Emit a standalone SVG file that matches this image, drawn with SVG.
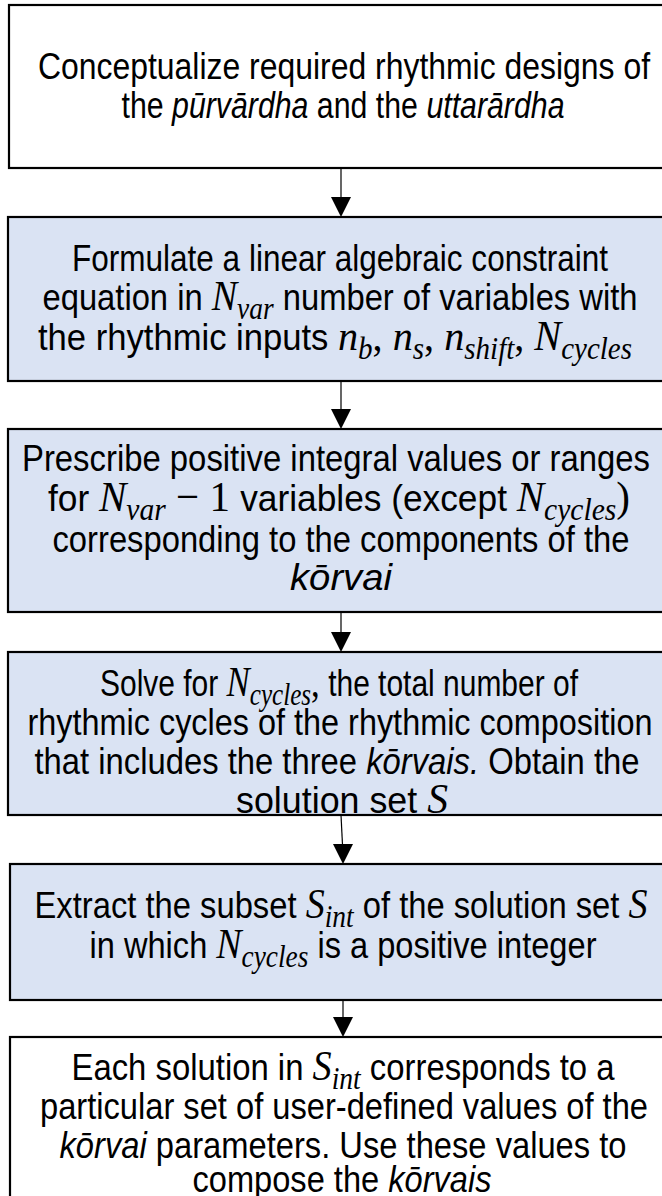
<svg xmlns="http://www.w3.org/2000/svg" width="662" height="1196" viewBox="0 0 662 1196">
<style>
.box{stroke:#000;stroke-width:2.2}
.w{fill:#fff}
.b{fill:#dae3f3}
.t{font-family:"Liberation Sans",Arial,sans-serif;font-size:37px;fill:#000;text-anchor:middle}
.i{font-style:italic}
.m{font-family:"Liberation Serif","Times New Roman",serif;font-style:italic;font-size:43px}
.mu{font-family:"Liberation Serif","Times New Roman",serif;font-size:43px}
.s{font-size:31px}
.c{stroke:#000;stroke-width:1.2;fill:none}
.h{fill:#000}
</style>
<rect width="662" height="1196" fill="#fff"/>
<g id="node1">
<rect class="box w" x="9" y="5" width="670" height="163"/>
<text class="t" x="344" y="79" textLength="612" lengthAdjust="spacingAndGlyphs">Conceptualize required rhythmic designs of</text>
<text class="t" x="343" y="118" textLength="443" lengthAdjust="spacingAndGlyphs">the <tspan class="i">pūrvārdha</tspan> and the <tspan class="i">uttarārdha</tspan></text>
</g>
<g id="node2">
<rect class="box b" x="8" y="217" width="670" height="164"/>
<text class="t" x="340" y="271" textLength="536" lengthAdjust="spacingAndGlyphs">Formulate a linear algebraic constraint</text>
<text class="t" x="340" y="310" textLength="595" lengthAdjust="spacingAndGlyphs">equation in <tspan class="m">N</tspan><tspan class="m s" dy="9">var</tspan><tspan dy="-9"> number of variables with</tspan></text>
<text class="t" x="335" y="350" textLength="594" lengthAdjust="spacingAndGlyphs">the rhythmic inputs <tspan class="m">n</tspan><tspan class="m s" dy="9">b</tspan><tspan class="mu" dy="-9">, </tspan><tspan class="m">n</tspan><tspan class="m s" dy="9">s</tspan><tspan class="mu" dy="-9">, </tspan><tspan class="m">n</tspan><tspan class="m s" dy="9">shift</tspan><tspan class="mu" dy="-9">, </tspan><tspan class="m">N</tspan><tspan class="m s" dy="9">cycles</tspan></text>
</g>
<g id="node3">
<rect class="box b" x="8" y="429" width="670" height="183"/>
<text class="t" x="336" y="471" textLength="628" lengthAdjust="spacingAndGlyphs">Prescribe positive integral values or ranges</text>
<text class="t" x="339" y="511" textLength="582" lengthAdjust="spacingAndGlyphs">for <tspan class="m">N</tspan><tspan class="m s" dy="9">var</tspan><tspan class="mu" dy="-9"> − 1 </tspan> variables (except <tspan class="m">N</tspan><tspan class="m s" dy="9">cycles</tspan><tspan class="mu" dy="-9">)</tspan></text>
<text class="t" x="341" y="552" textLength="577" lengthAdjust="spacingAndGlyphs">corresponding to the components of the</text>
<text class="t i" x="341" y="590" textLength="102" lengthAdjust="spacingAndGlyphs">kōrvai</text>
</g>
<g id="node4">
<rect class="box b" x="8" y="652" width="670" height="163"/>
<text class="t" x="339" y="696" textLength="478" lengthAdjust="spacingAndGlyphs">Solve for <tspan class="m">N</tspan><tspan class="m s" dy="9">cycles</tspan><tspan class="mu" dy="-9">,</tspan> the total number of</text>
<text class="t" x="340" y="735" textLength="625" lengthAdjust="spacingAndGlyphs">rhythmic cycles of the rhythmic composition</text>
<text class="t" x="337" y="774" textLength="605" lengthAdjust="spacingAndGlyphs">that includes the three <tspan class="i">kōrvais.</tspan> Obtain the</text>
<text class="t" x="342" y="813" textLength="212" lengthAdjust="spacingAndGlyphs">solution set <tspan class="m">S</tspan></text>
</g>
<g id="node5">
<rect class="box b" x="10" y="864" width="670" height="136"/>
<text class="t" x="341" y="918" textLength="613" lengthAdjust="spacingAndGlyphs">Extract the subset <tspan class="m">S</tspan><tspan class="m s" dy="9">int</tspan><tspan dy="-9"> of the solution set </tspan><tspan class="m">S</tspan></text>
<text class="t" x="343" y="958" textLength="507" lengthAdjust="spacingAndGlyphs">in which <tspan class="m">N</tspan><tspan class="m s" dy="9">cycles</tspan><tspan dy="-9"> is a positive integer</tspan></text>
</g>
<g id="node6">
<rect class="box w" x="10" y="1037" width="670" height="180"/>
<text class="t" x="343" y="1080" textLength="543" lengthAdjust="spacingAndGlyphs">Each solution in <tspan class="m">S</tspan><tspan class="m s" dy="9">int</tspan><tspan dy="-9"> corresponds to a</tspan></text>
<text class="t" x="344" y="1119" textLength="608" lengthAdjust="spacingAndGlyphs">particular set of user-defined values of the</text>
<text class="t" x="343" y="1158" textLength="567" lengthAdjust="spacingAndGlyphs"><tspan class="i">kōrvai</tspan> parameters. Use these values to</text>
<text class="t" x="342" y="1192" textLength="299" lengthAdjust="spacingAndGlyphs">compose the <tspan class="i">kōrvais</tspan></text>
</g>
<g id="connectors">
<line class="c" x1="341" y1="168" x2="341" y2="198"/>
<polygon class="h" points="331,197 351,197 341,217"/>
<line class="c" x1="341" y1="381" x2="341" y2="410"/>
<polygon class="h" points="331,409 351,409 341,429"/>
<line class="c" x1="341" y1="612" x2="341" y2="633"/>
<polygon class="h" points="331,632 351,632 341,652"/>
<line class="c" x1="341" y1="815" x2="342.5" y2="845"/>
<polygon class="h" points="333,844 353,844 343,864"/>
<line class="c" x1="343" y1="1000" x2="343" y2="1018"/>
<polygon class="h" points="333,1017 353,1017 343,1037"/>
</g>
</svg>
